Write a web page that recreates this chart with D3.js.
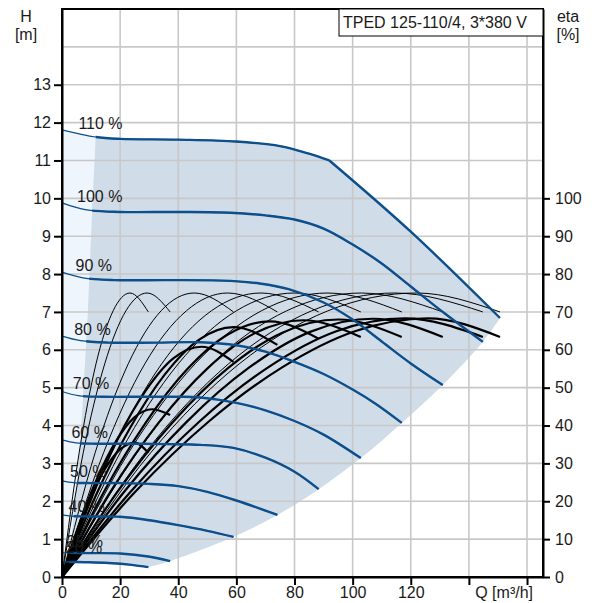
<!DOCTYPE html>
<html>
<head>
<meta charset="utf-8">
<script src="https://cdn.jsdelivr.net/npm/d3@7"></script>
<style>
  body { margin: 0; background: #fff; }
  svg { display: block; font-family: "Liberation Sans", Arial, sans-serif; }
</style>
</head>
<body>
<div id="chart"></div>
<script>
// ---- data ----
const qTicks = [0, 20, 40, 60, 80, 100, 120, 140, 160];
const qLabels = [0, 20, 40, 60, 80, 100, 120];
const hTicks = [0, 1, 2, 3, 4, 5, 6, 7, 8, 9, 10, 11, 12, 13];
const etaTicks = [0, 10, 20, 30, 40, 50, 60, 70, 80, 90, 100];

const speedNames = ["110 %", "100 %", "90 %", "80 %", "70 %", "60 %", "50 %", "40 %", "25 %", "20 %"];
const speedFactor = [1.1, 1.0, 0.9, 0.8, 0.7, 0.6, 0.5, 0.4, 0.25, 0.2];

// H curves [Q m3/h, H m]
const h110 = [[0, 11.81], [11.6, 11.62], [20, 11.57], [40, 11.55], [60, 11.5], [75, 11.38], [85, 11.18], [92, 11.0]];
const h110max = [[92, 11.0], [120, 9.12], [150.7, 6.84]];
const h100 = [[0, 9.88], [8, 9.70], [20, 9.64], [40, 9.64], [58, 9.62], [70, 9.55], [80, 9.44], [90, 9.2], [100, 8.78], [110, 8.28], [120, 7.67], [131.5, 6.97], [144.8, 6.21]];
const h90 = [[0, 8.05], [7.2, 7.9], [18, 7.84], [36, 7.84], [58, 7.82], [68, 7.75], [78, 7.6], [90, 7.25], [100, 6.8], [110, 6.22], [120, 5.64], [131, 5.07]];
const h80 = [[0, 6.36], [6.4, 6.24], [16, 6.19], [32, 6.19], [47.6, 6.2], [60, 6.12], [70, 5.95], [80, 5.68], [90, 5.36], [100, 4.95], [108, 4.57], [116.9, 4.07]];
const h70 = [[0, 4.9], [5.6, 4.79], [14, 4.76], [28, 4.76], [40, 4.76], [47.6, 4.74], [60, 4.6], [70, 4.4], [80, 4.12], [90, 3.76], [102.8, 3.14]];
const h60 = [[0, 3.62], [4.8, 3.54], [12, 3.52], [24, 3.52], [36, 3.51], [47.6, 3.49], [59, 3.41], [70, 3.15], [80, 2.78], [88.3, 2.32]];
const h50 = [[0, 2.54], [4, 2.49], [10, 2.48], [20, 2.48], [30, 2.46], [40, 2.4], [50, 2.25], [60, 2.02], [74.1, 1.64]];
const h40 = [[0, 1.64], [3.2, 1.61], [8, 1.6], [20, 1.59], [30, 1.5], [40, 1.37], [50, 1.22], [59, 1.06]];
const h25 = [[0, 0.64], [10, 0.63], [20, 0.62], [29.7, 0.54], [37.2, 0.42]];
const h20 = [[0, 0.40], [8, 0.39], [16, 0.37], [24, 0.32], [29.7, 0.26]];

// limits of the operating area
const minFlow = [[11.6, 11.62], [10.4, 9.67], [9.4, 7.93], [8.9, 7.0], [7.2, 4.7], [5.6, 2.9], [3.6, 1.3], [2.5, 0.39]];
const endFlow = [[150.7, 6.84], [144.8, 6.21], [131, 5.07], [116.9, 4.07], [102.8, 3.14], [88.3, 2.32], [74.1, 1.64], [59, 1.06], [37.2, 0.42], [29.7, 0.26]];

// pump eta [Q, %] (thin)
const p110 = [[0, 0], [30.5, 32.8], [61, 56.3], [91.5, 70.3], [122, 75], [150.7, 70]];
const p100 = [[0, 0], [28.6, 32.8], [57.3, 56.3], [85.9, 70.3], [114.5, 75], [144.8, 70]];
const p90 = [[0, 0], [25.8, 32.8], [51.5, 56.3], [77.3, 70.3], [103, 75], [131, 70]];
const p80 = [[0, 0], [22.9, 32.8], [45.8, 56.3], [68.6, 70.3], [91.5, 75], [116.9, 70]];
const p70 = [[0, 0], [20, 32.8], [40, 56.3], [60, 70.3], [80, 75], [102.8, 70]];
const p60 = [[0, 0], [17.1, 32.8], [34.3, 56.3], [51.4, 70.3], [68.5, 75], [88.3, 70]];
const p50 = [[0, 0], [14.3, 32.8], [28.5, 56.3], [42.8, 70.3], [57, 75], [74.1, 70]];
const p40 = [[0, 0], [11.4, 32.8], [22.8, 56.3], [34.1, 70.3], [45.5, 75], [59, 70]];
const p25 = [[0, 0], [7.3, 32.8], [14.7, 56.3], [22, 70.3], [29.3, 75], [37.2, 70]];
const p20 = [[0, 0], [5.9, 32.8], [11.7, 56.3], [17.6, 70.3], [23.4, 75], [29.7, 70]];

// total eta [Q, %] (thick)
const t110 = [[0, 0], [25.2, 22.5], [50.4, 41], [75.6, 55.3], [100.8, 64.9], [126, 68.3], [150.7, 63.4]];
const t100 = [[0, 0], [23.6, 22.5], [47.2, 41], [70.8, 55.3], [94.4, 64.9], [118, 68.3], [144.8, 63.4]];
const t90 = [[0, 0], [21.4, 22.5], [42.8, 40.9], [64.2, 55.2], [85.6, 64.8], [107, 68.2], [131, 63.4]];
const t80 = [[0, 0], [19, 22.4], [38, 40.8], [57, 55.1], [76, 64.6], [95, 68], [116.9, 63.4]];
const t70 = [[0, 0], [16.6, 22.4], [33.2, 40.7], [49.8, 54.9], [66.4, 64.4], [83, 67.8], [102.8, 63.4]];
const t60 = [[0, 0], [14.3, 22.3], [28.6, 40.5], [42.9, 54.7], [57.2, 64.1], [71.5, 67.5], [88.3, 62.9]];
const t50 = [[0, 0], [11.8, 21.8], [23.6, 39.6], [35.4, 53.5], [47.2, 62.7], [59, 66], [74.1, 61.3]];
const t40 = [[0, 0], [9.6, 20.1], [19.2, 36.5], [28.8, 49.2], [38.4, 57.8], [48, 60.8], [59, 56.8]];
const t25 = [[0, 0], [6.2, 14.6], [12.4, 26.6], [18.6, 35.9], [24.8, 42.1], [31, 44.3], [37.2, 42.8]];
const t20 = [[0, 0], [5, 11.7], [10, 21.3], [15, 28.8], [20, 33.7], [25, 35.5], [29.7, 32.8]];

const hCurves = [h110, h100, h90, h80, h70, h60, h50, h40, h25, h20];
const pumpEta = [p110, p100, p90, p80, p70, p60, p50, p40, p25, p20];
const totalEta = [t110, t100, t90, t80, t70, t60, t50, t40, t25, t20];

// ---- chart ----
const width = 603, height = 603;
const margin = { top: 9, right: 60, bottom: 26, left: 62 };

const x = d3.scaleLinear([0, 165.5], [margin.left, width - margin.right]);
const y = d3.scaleLinear([0, 15], [height - margin.bottom, margin.top]);
const yEta = d3.scaleLinear([0, 150], [height - margin.bottom, margin.top]);

const blue = "#0c4f8c";
const cr = d3.curveCatmullRom.alpha(0.5);

const svg = d3.select("#chart").append("svg")
    .attr("width", width)
    .attr("height", height)
    .attr("viewBox", [0, 0, width, height]);

// joins several boundary pieces into one closed path
const piece = (pts, curve, first) => {
    const s = d3.line().x(d => x(d[0])).y(d => y(d[1])).curve(curve)(pts);
    return first ? s : "L" + s.slice(1);
};

// light area (whole envelope), then dark area right of min flow
const envelope = piece(h110, cr, true)
    + piece(h110max, cr)
    + piece(endFlow, cr)
    + piece(h20.slice().reverse(), cr) + "Z";
svg.append("path").attr("d", envelope).attr("fill", "#eef5fc");

const dark = piece(h110.filter(d => d[0] >= minFlow[0][0]), cr, true)
    + piece(h110max, cr)
    + piece(endFlow, cr)
    + piece(h20.filter(d => d[0] >= minFlow[minFlow.length - 1][0]).reverse(), cr)
    + piece(minFlow.slice().reverse(), cr) + "Z";
svg.append("path").attr("d", dark).attr("fill", "#d0dce8");

// grid
svg.append("g")
    .selectAll("line")
    .data(qTicks.filter(d => d > 0))
    .join("line")
    .attr("x1", d => x(d)).attr("x2", d => x(d))
    .attr("y1", y(0)).attr("y2", y(15))
    .attr("stroke", "#c8c8c8").attr("stroke-width", 1.6);
svg.append("g")
    .selectAll("line")
    .data(d3.range(1, 15))
    .join("line")
    .attr("x1", x(0)).attr("x2", x(165.5))
    .attr("y1", d => y(d)).attr("y2", d => y(d))
    .attr("stroke", "#c8c8c8").attr("stroke-width", 1.6);

// clip for the thick part of the speed curves
const clipPts = [[minFlow[0][0], 16]].concat(minFlow, [[minFlow[minFlow.length - 1][0], -1], [170, -1], [170, 16]]);
svg.append("clipPath").attr("id", "work")
    .append("path")
    .attr("d", d3.line().x(d => x(d[0])).y(d => y(d[1]))(clipPts) + "Z");

const hLine = d3.line().x(d => x(d[0])).y(d => y(d[1])).curve(cr);
const etaLine = d3.line().x(d => x(d[0])).y(d => yEta(d[1])).curve(d3.curveMonotoneX);

// efficiency curves
svg.append("g")
    .selectAll("path")
    .data(pumpEta)
    .join("path")
    .attr("d", etaLine)
    .attr("fill", "none")
    .attr("stroke", "#000")
    .attr("stroke-width", 1);

svg.append("g")
    .selectAll("path")
    .data(totalEta)
    .join("path")
    .attr("d", etaLine)
    .attr("fill", "none")
    .attr("stroke", "#000")
    .attr("stroke-width", 2.2);

// speed curves: thin everywhere, thick inside the working area
const hg = svg.append("g");
hg.selectAll("path.thin")
    .data(hCurves)
    .join("path")
    .attr("class", "thin")
    .attr("d", hLine)
    .attr("fill", "none")
    .attr("stroke", blue)
    .attr("stroke-width", 1.2);
hg.selectAll("path.thick")
    .data(hCurves.concat([h110max]))
    .join("path")
    .attr("class", "thick")
    .attr("d", hLine)
    .attr("fill", "none")
    .attr("stroke", blue)
    .attr("stroke-width", 2.4)
    .attr("clip-path", "url(#work)");

// speed labels (the two lowest sit close together, as in the original)
const labelLift = [1, 1, 1, 1, 2, 2, 4, 3, 6, 9];
svg.append("g")
    .selectAll("text")
    .data(hCurves)
    .join("text")
    .attr("x", (d, i) => x(0) + 1 + 14 * speedFactor[i])
    .attr("y", (d, i) => y(d[0][1]) - labelLift[i])
    .attr("font-size", 16)
    .attr("fill", "#1a1a1a")
    .text((d, i) => speedNames[i]);

// axes
const fmtAxis = g => {
    g.attr("font-size", 16).attr("font-family", null);
    g.select(".domain").attr("stroke-width", 2);
    g.selectAll(".tick line").attr("stroke-width", 2);
    g.selectAll(".tick text").attr("fill", "#1a1a1a");
};

svg.append("g")
    .attr("transform", `translate(${x(0)},0)`)
    .call(d3.axisLeft(y).tickValues(hTicks).tickSize(8).tickPadding(3).tickSizeOuter(0))
    .call(fmtAxis);

svg.append("g")
    .attr("transform", `translate(${x(165.5)},0)`)
    .call(d3.axisRight(yEta).tickValues(etaTicks).tickSize(7).tickPadding(5).tickSizeOuter(0))
    .call(fmtAxis);

svg.append("g")
    .attr("transform", `translate(0,${y(0)})`)
    .call(d3.axisBottom(x).tickValues(qTicks).tickFormat(d => qLabels.includes(d) ? d : "")
        .tickSize(8).tickPadding(2).tickSizeOuter(0))
    .call(fmtAxis);

// frame
svg.append("rect")
    .attr("x", x(0)).attr("y", y(15))
    .attr("width", x(165.5) - x(0)).attr("height", y(0) - y(15))
    .attr("fill", "none").attr("stroke", "#000").attr("stroke-width", 2);

// title box
svg.append("rect")
    .attr("x", 339).attr("y", y(15))
    .attr("width", x(165.5) - 339).attr("height", 27)
    .attr("fill", "#fff").attr("stroke", "#000").attr("stroke-width", 1);
svg.append("text")
    .attr("x", 343).attr("y", 28)
    .attr("font-size", 16).attr("fill", "#1a1a1a")
    .text("TPED 125-110/4, 3*380 V");

// axis titles
const title = (tx, ty, s, anchor) => svg.append("text")
    .attr("x", tx).attr("y", ty)
    .attr("text-anchor", anchor)
    .attr("font-size", 16).attr("fill", "#1a1a1a")
    .text(s);
title(26, 22, "H", "middle");
title(26, 40, "[m]", "middle");
title(568, 22, "eta", "middle");
title(568, 40, "[%]", "middle");
title(533, 598, "Q [m³/h]", "end");
</script>
</body>
</html>
